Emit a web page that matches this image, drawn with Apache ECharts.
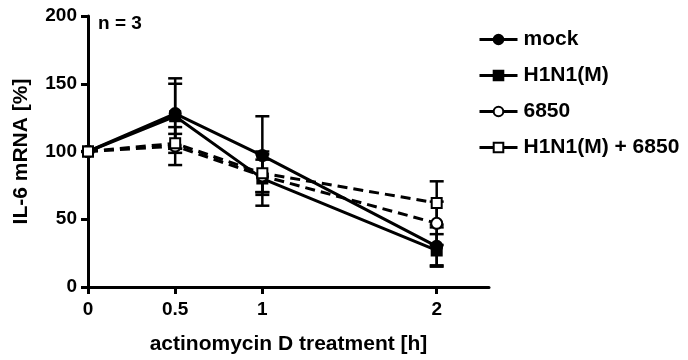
<!DOCTYPE html>
<html>
<head>
  <meta charset="utf-8">
  <title>IL-6 mRNA</title>
  <script src="https://cdn.jsdelivr.net/npm/echarts@6/dist/echarts.min.js"></script>
</head>
<body style="margin:0">
  <div id="chart" style="width:688px;height:360px;"></div>
  <script>
    // time points [h]
    var timePoints = [0, 0.5, 1, 2];
    var xTicks = [0, 0.5, 1, 2];

    var names = ['mock', 'H1N1(M)', '6850', 'H1N1(M) + 6850'];
    // mean values [%]
    var mockMean = [100, 128, 97, 30];
    var h1n1Mean = [100, 126, 80, 27];
    var s6850Mean = [100, 104, 82, 47];
    var comboMean = [100, 106, 84, 62];
    // SD
    var mockErr = [0, 26, 29, 14];
    var h1n1Err = [0, 24, 20, 12];
    var s6850Err = [0, 14, 12, 16];
    var comboErr = [0, 7, 14, 16];

    var means = [mockMean, h1n1Mean, s6850Mean, comboMean];
    var errs = [mockErr, h1n1Err, s6850Err, comboErr];
    var symbols = ['circle', 'rect', 'circle', 'rect'];
    var dashed = [false, false, true, true];

    var chart = echarts.init(document.getElementById('chart'));
    var font = 'Liberation Sans, Arial, sans-serif';

    function errorBars(mean, err) {
      var d = [];
      for (var i = 0; i < timePoints.length; i++) {
        d.push([timePoints[i], mean[i] - err[i], mean[i] + err[i]]);
      }
      return {
        type: 'custom',
        silent: true,
        z: 1,
        renderItem: function (params, api) {
          var lo = api.coord([api.value(0), api.value(1)]);
          var hi = api.coord([api.value(0), api.value(2)]);
          if (api.value(2) - api.value(1) <= 0) return null;
          var w = 7;
          var st = { stroke: '#000', lineWidth: 2.5 };
          return {
            type: 'group',
            children: [
              { type: 'line', shape: { x1: lo[0], y1: lo[1], x2: hi[0], y2: hi[1] }, style: st },
              { type: 'line', shape: { x1: lo[0] - w, y1: lo[1], x2: lo[0] + w, y2: lo[1] }, style: st },
              { type: 'line', shape: { x1: hi[0] - w, y1: hi[1], x2: hi[0] + w, y2: hi[1] }, style: st }
            ]
          };
        },
        encode: { x: 0, y: [1, 2] },
        data: d
      };
    }

    var series = [];
    var legendData = [];
    for (var k = 0; k < names.length; k++) {
      series.push(errorBars(means[k], errs[k]));
    }
    for (var k = 0; k < names.length; k++) {
      var fill = dashed[k] ? '#fff' : '#000';
      series.push({
        name: names[k],
        type: 'line',
        z: 3,
        data: timePoints.map(function (t, i) { return [t, means[k][i]]; }),
        symbol: symbols[k],
        symbolSize: k % 2 ? 10 : 11,
        lineStyle: { color: '#000', width: 3, type: dashed[k] ? [10, 6] : 'solid' },
        itemStyle: { color: fill, borderColor: '#000', borderWidth: 2 }
      });
      legendData.push({
        name: names[k],
        lineStyle: { type: 'solid', width: 3, color: '#000' },
        itemStyle: { color: fill, borderColor: '#000', borderWidth: 2 }
      });
    }

    var option = {
      animation: false,
      grid: { left: 88, right: 199, top: 16, bottom: 73, outerBoundsMode: 'none' },
      xAxis: {
        type: 'value',
        min: 0,
        max: 2.3,
        name: 'actinomycin D treatment [h]',
        nameLocation: 'middle',
        nameGap: 47,
        nameTextStyle: { color: '#000', fontSize: 21, fontWeight: 'bold', fontFamily: font },
        axisLine: { lineStyle: { color: '#000', width: 3 } },
        axisTick: { customValues: xTicks, length: 7, lineStyle: { color: '#000', width: 3 } },
        axisLabel: { customValues: xTicks, color: '#000', fontSize: 19, fontWeight: 'bold', fontFamily: font, margin: 13 },
        splitLine: { show: false }
      },
      yAxis: {
        type: 'value',
        min: 0,
        max: 200,
        interval: 50,
        name: 'IL-6 mRNA [%]',
        nameLocation: 'middle',
        nameGap: 56,
        nameTextStyle: { color: '#000', fontSize: 21, fontWeight: 'bold', fontFamily: font },
        axisLine: { show: true, lineStyle: { color: '#000', width: 3 } },
        axisTick: { show: true, length: 7, lineStyle: { color: '#000', width: 3 } },
        axisLabel: { color: '#000', fontSize: 19, fontWeight: 'bold', fontFamily: font, margin: 11 },
        splitLine: { show: false }
      },
      legend: {
        orient: 'vertical',
        left: 473,
        top: 24,
        itemWidth: 38,
        itemHeight: 12,
        itemGap: 15,
        data: legendData,
        textStyle: { color: '#000', fontSize: 21, fontWeight: 'bold', fontFamily: font, padding: [0, 0, 0, 1] }
      },
      graphic: [{
        type: 'text',
        left: 98,
        top: 14,
        style: { text: 'n = 3', fill: '#000', fontSize: 19, fontWeight: 'bold', fontFamily: font }
      }],
      series: series
    };

    chart.setOption(option);
  </script>
</body>
</html>
